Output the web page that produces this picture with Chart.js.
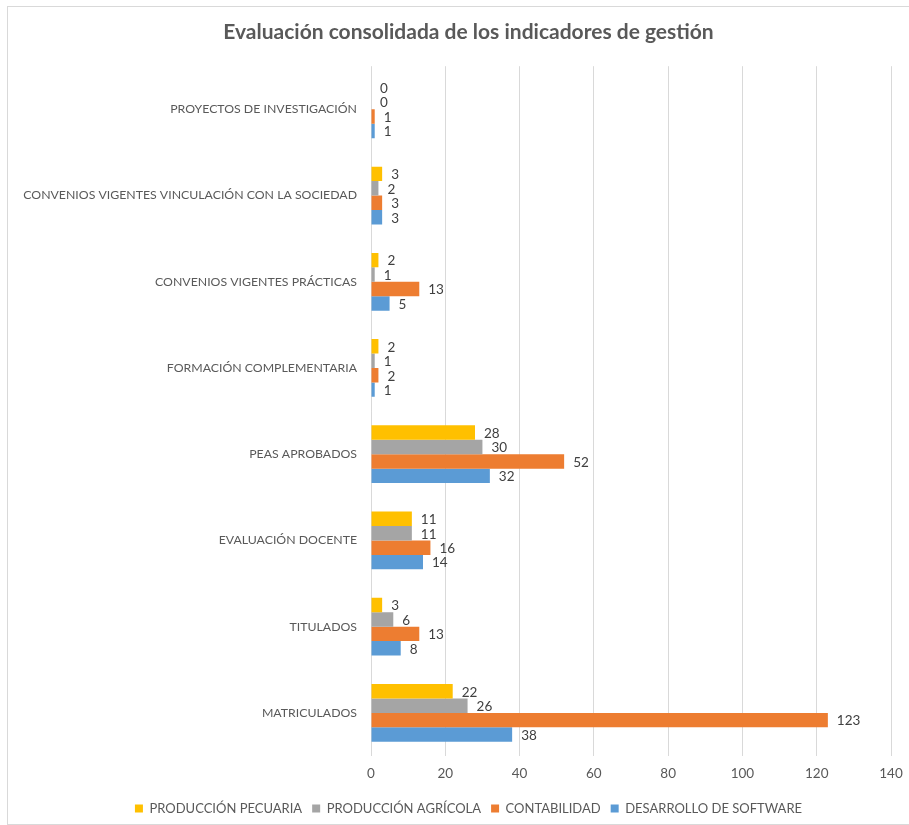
<!doctype html>
<html lang="es">
<head>
<meta charset="utf-8" />
<script src="https://cdn.jsdelivr.net/npm/chart.js@4/dist/chart.umd.min.js"></script>
<style>
  html, body {
    margin: 0;
    padding: 0;
    width: 909px;
    height: 825px;
    background: #ffffff;
    overflow: hidden;
  }
  .frame {
    position: absolute;
    left: 7px;
    top: 6px;
    width: 920px;
    height: 817px;
    border: 1px solid #d9d9d9;
  }
  .wrap {
    position: absolute;
    left: 0;
    top: 0;
    width: 909px;
    height: 825px;
  }
</style>
</head>
<body>
<div class="frame"></div>
<div class="wrap"><canvas id="chart"></canvas></div>
<script>
// categories, top to bottom as drawn
const categories = [
  'PROYECTOS DE INVESTIGACIÓN',
  'CONVENIOS VIGENTES VINCULACIÓN CON LA SOCIEDAD',
  'CONVENIOS VIGENTES PRÁCTICAS',
  'FORMACIÓN COMPLEMENTARIA',
  'PEAS APROBADOS',
  'EVALUACIÓN DOCENTE',
  'TITULADOS',
  'MATRICULADOS',
];

const seriesNames = ['PRODUCCIÓN PECUARIA', 'PRODUCCIÓN AGRÍCOLA', 'CONTABILIDAD', 'DESARROLLO DE SOFTWARE'];
const pecuaria = [0, 3, 2, 2, 28, 11, 3, 22];
const agricola = [0, 2, 1, 1, 30, 11, 6, 26];
const contabilidad = [1, 3, 13, 2, 52, 16, 13, 123];
const software = [1, 3, 5, 1, 32, 14, 8, 38];
const xTicks = [0, 20, 40, 60, 80, 100, 120, 140];

const colors = ['#FFC000', '#A5A5A5', '#ED7D31', '#5B9BD5'];
const FONT = 'Lato, "Open Sans", sans-serif';
const textColor = '#595959';

// value labels just right of each bar end
const barLabels = {
  id: 'barLabels',
  afterDatasetsDraw(chart) {
    const ctx = chart.ctx;
    ctx.save();
    ctx.font = '13.5px ' + FONT;
    ctx.fillStyle = '#404040';
    ctx.textAlign = 'left';
    ctx.textBaseline = 'middle';
    chart.data.datasets.forEach((ds, i) => {
      const meta = chart.getDatasetMeta(i);
      meta.data.forEach((bar, j) => {
        ctx.fillText(String(ds.data[j]), bar.x + 9, bar.y + 1);
      });
    });
    ctx.restore();
  },
};

// long category names run past the padded left edge; widen the label clip
const unclipY = {
  id: 'unclipY',
  afterLayout(chart) {
    chart.scales.y.left = 0;
  },
};

const series = [pecuaria, agricola, contabilidad, software];

new Chart(document.getElementById('chart'), {
  type: 'bar',
  data: {
    labels: categories,
    datasets: series.map((data, i) => ({
      label: seriesNames[i],
      data,
      backgroundColor: colors[i],
      borderWidth: 0,
      categoryPercentage: 0.67,
      barPercentage: 1.0,
    })),
  },
  options: {
    indexAxis: 'y',
    responsive: true,
    maintainAspectRatio: false,
    animation: false,
    // the source chart is wider than the picture, so title/legend sit right of centre
    layout: { padding: { left: 40, right: 12, top: 0, bottom: 0 } },
    plugins: {
      title: {
        display: true,
        text: 'Evaluación consolidada de los indicadores de gestión',
        color: textColor,
        font: { family: FONT, size: 21, weight: 'bold' },
        padding: { top: 20, bottom: 21 },
      },
      legend: {
        position: 'bottom',
        labels: {
          boxWidth: 8,
          boxHeight: 8,
          padding: 10,
          color: textColor,
          font: { family: FONT, size: 13 },
        },
      },
      tooltip: { enabled: false },
    },
    scales: {
      x: {
        min: 0,
        max: 140,
        afterBuildTicks(scale) {
          scale.ticks = xTicks.map(v => ({ value: v }));
        },
        afterFit(scale) {
          scale.height = 36;
          scale.paddingRight = 18;
        },
        grid: { color: '#d9d9d9', drawTicks: false },
        border: { display: false },
        ticks: { color: textColor, font: { family: FONT, size: 13.5 }, padding: 10 },
      },
      y: {
        afterFit(scale) { scale.width = 331; },
        grid: { display: false, drawTicks: false },
        border: { display: false },
        ticks: { color: textColor, font: { family: FONT, size: 12.3 }, padding: 14 },
      },
    },
  },
  plugins: [barLabels, unclipY],
});
</script>
</body>
</html>
